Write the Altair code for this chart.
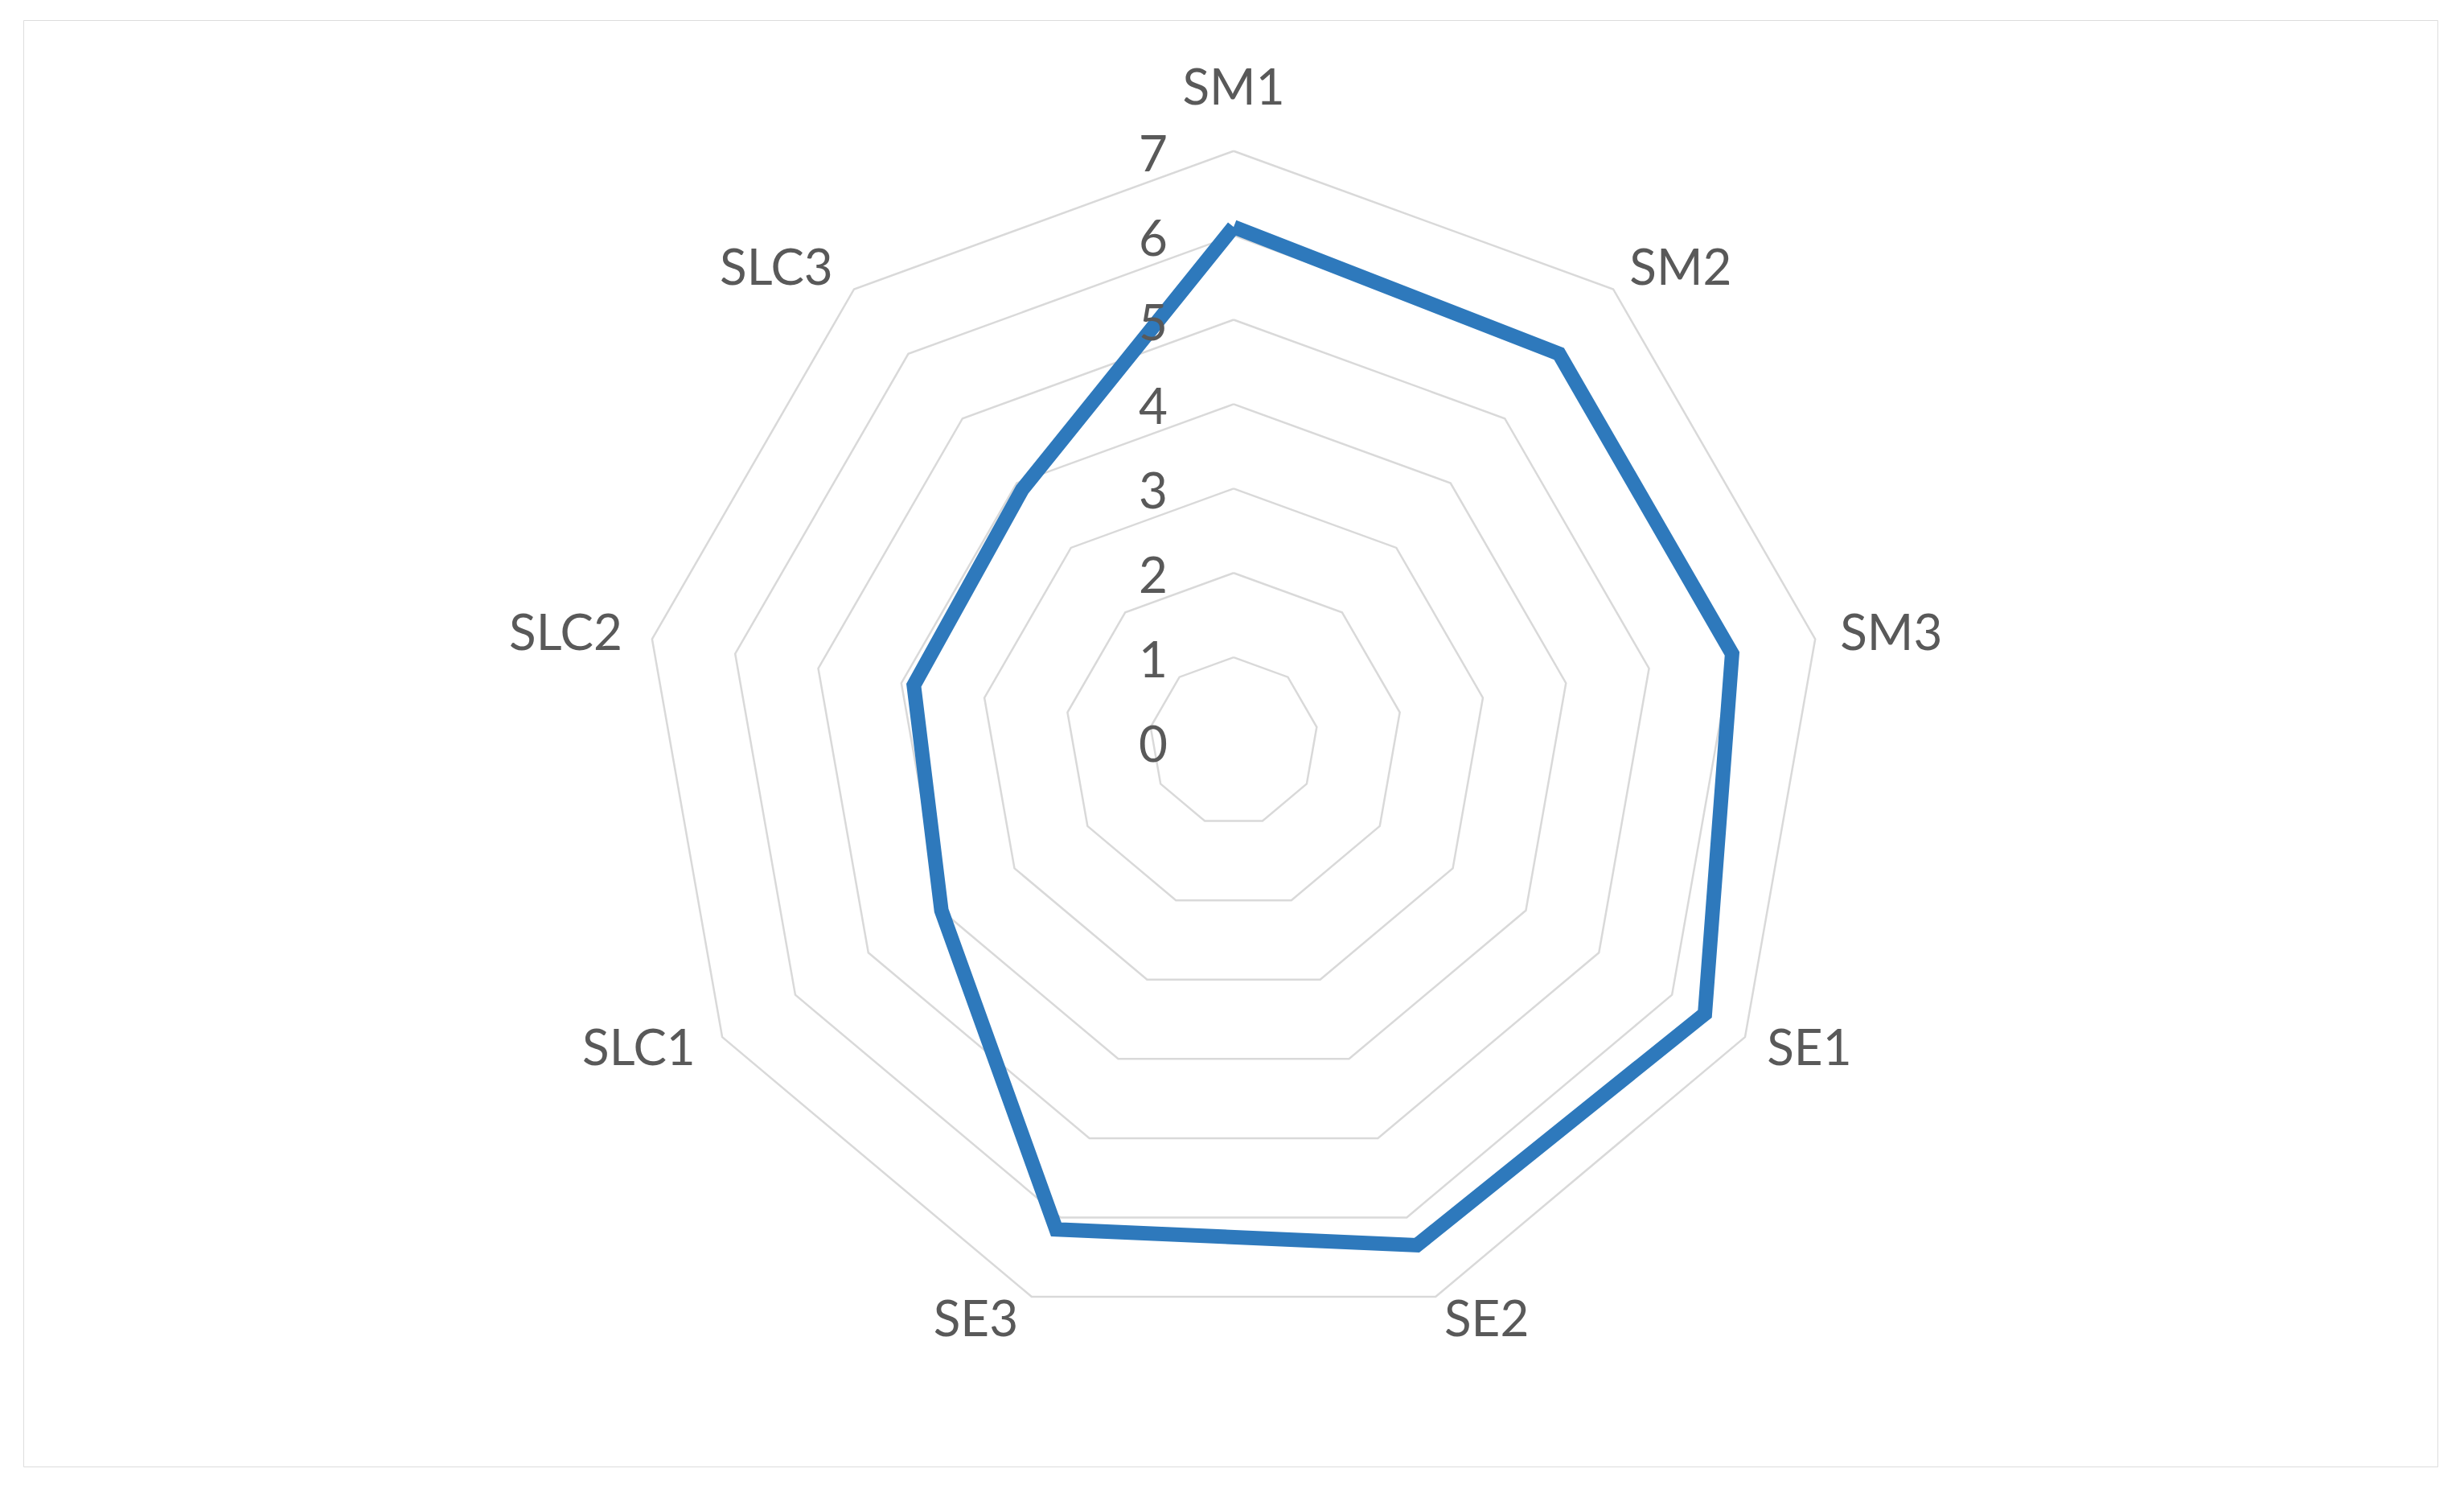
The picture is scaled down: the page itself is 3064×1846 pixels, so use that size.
import altair as alt
import pandas as pd

categories = ["SM1", "SM2", "SM3", "SE1", "SE2", "SE3", "SLC1", "SLC2", "SLC3"]
values = [6.1, 6.0, 6.0, 6.45, 6.35, 6.15, 4.0, 3.85, 3.9]
ticks = [0, 1, 2, 3, 4, 5, 6, 7]

N = len(categories)
LABEL_R = 7.3
FONT = "Lato"
FS = 62
TXT = "#595959"

series = pd.DataFrame({
    "idx": list(range(N)) + [N],
    "cat": categories + [categories[0]],
    "value": values + [values[0]],
})

ring_rows = []
for t in ticks[1:]:
    for k in range(N + 1):
        ring_rows.append({"ring": t, "idx": k, "value": t})
rings = pd.DataFrame(ring_rows)

cats_df = pd.DataFrame({"idx": list(range(N)), "cat": categories, "value": [LABEL_R] * N})
ticks_df = pd.DataFrame({"idx": [0] * len(ticks), "value": ticks, "label": [str(t) for t in ticks]})

W, H = 3002, 1798
xs = alt.Scale(domain=[-14.347, 14.27], nice=False, zero=False)
ys = alt.Scale(domain=[-8.589, 8.551], nice=False, zero=False)
X = alt.X("px:Q", scale=xs, axis=None)
Y = alt.Y("py:Q", scale=ys, axis=None)


def polar(ch):
    return ch.transform_calculate(
        ang=f"datum.idx * 2 * PI / {N}"
    ).transform_calculate(
        px="datum.value * sin(datum.ang)",
        py="datum.value * cos(datum.ang)",
        s="sin(datum.ang)",
    )


grid = polar(alt.Chart(rings)).mark_line(color="#d9d9d9", strokeWidth=2.5).encode(
    x=X, y=Y, detail="ring:N", order="idx:Q",
)

line = polar(alt.Chart(series)).mark_line(
    color="#2E79BC", strokeWidth=18, strokeJoin="miter"
).encode(x=X, y=Y, order="idx:Q")

base_txt = polar(alt.Chart(cats_df))
cat_top = base_txt.transform_filter("abs(datum.s) < 0.1").mark_text(
    font=FONT, fontSize=FS, color=TXT, align="center", baseline="middle", dy=-45
).encode(x=X, y=Y, text="cat:N")
cat_right = base_txt.transform_filter("datum.s >= 0.1").mark_text(
    font=FONT, fontSize=FS, color=TXT, align="left", baseline="middle"
).encode(x=X, y=Y, text="cat:N")
cat_left = base_txt.transform_filter("datum.s <= -0.1").mark_text(
    font=FONT, fontSize=FS, color=TXT, align="right", baseline="middle", dx=-6
).encode(x=X, y=Y, text="cat:N")

tick_text = polar(alt.Chart(ticks_df)).mark_text(
    font=FONT, fontSize=FS, color=TXT, align="right", baseline="middle", dx=-82, dy=6
).encode(x=X, y=Y, text="label:N")

chart = alt.layer(grid, line, tick_text, cat_top, cat_right, cat_left).properties(
    width=W, height=H,
    padding={"left": 21, "top": 17, "right": 10, "bottom": 10},
    autosize=alt.AutoSizeParams(type="none"),
).configure_view(stroke="#d9d9d9", strokeWidth=3).configure(background="white")

chart.save("out.html", embed_options={"renderer": "svg", "actions": False})
